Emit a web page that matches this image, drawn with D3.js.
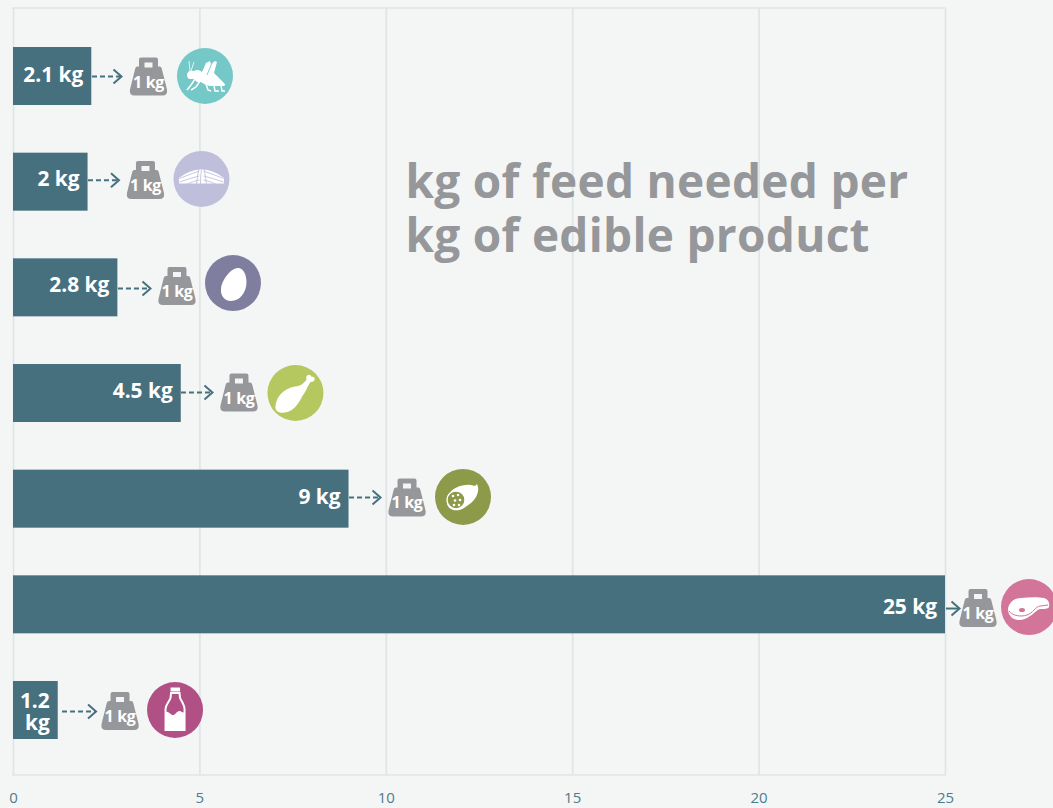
<!DOCTYPE html>
<html>
<head>
<meta charset="utf-8">
<script src="https://cdn.jsdelivr.net/npm/d3@7/dist/d3.min.js"></script>
<style>
  html, body { margin: 0; padding: 0; background: #f4f6f6; overflow: hidden; }
  svg { display: block; font-family: "Open Sans", sans-serif; }
</style>
</head>
<body>
<svg id="chart" width="1053" height="808"></svg>
<script>
// Feed conversion per kilogram of edible product
const products = ["Crickets", "Farmed fish", "Eggs", "Chicken", "Pork", "Beef", "Milk"];
const feedKg = [2.1, 2, 2.8, 4.5, 9, 25, 1.2];
const badgeColors = ["#74c8c8", "#bfbfdc", "#807e9e", "#b5c75f", "#8d9a4a", "#d37499", "#b15085"];
const tickValues = [0, 5, 10, 15, 20, 25];
const titleLines = ["kg of feed needed per", "kg of edible product"];

// Hand-placed callouts: distances from the bar end (dx) and bar middle (dy)
const arrowTipDx  = [30.2, 31.4, 33.1, 31.7, 32, 14.5, 38.3];
const arrowLength = [29.5, 31, 32.5, 31.5, 31.5, 13.5, 34];
const weightDx    = [57.2, 57.9, 59.6, 58.2, 58.5, 33, 62.3];
const badgeDx     = [113.7, 113.9, 115.6, 114.7, 114.5, 84, 117.3];
const arrowDy     = [0, -2, 0.7, -1, -1.7, 3.7, 1];
const weightDy    = [0.5, -1.7, -1.3, -0.5, -1.2, 3.7, 1];
const badgeDy     = [0, -2.7, -4.3, 0, -1.7, 2.7, 0];
const labelDy     = [-1, -2.5, -1.5, -2, -1.5, 3, 0];

const svg = d3.select("#chart");
const INK = "#47707f", GRID = "#e0e4e4", GREY = "#96979a";

const x = d3.scaleLinear().domain([0, 25]).range([13, 945]);
const y = d3.scaleBand().domain(products).range([47, 739]).paddingInner(0.451);
const PLOT_TOP = 8, PLOT_BOTTOM = 775;

// Frame and vertical grid lines, drawn by the axis
const axis = d3.axisBottom(x).tickValues(tickValues).tickSizeOuter(0)
  .tickSizeInner(-(PLOT_BOTTOM - PLOT_TOP)).tickPadding(17);
const axisG = svg.append("g").attr("transform", `translate(0,${PLOT_BOTTOM})`).call(axis);
axisG.select(".domain").remove();
axisG.selectAll(".tick line").attr("stroke", GRID).attr("stroke-width", 1.7);
axisG.selectAll(".tick text").attr("fill", "#4f7b8a").attr("font-size", 15)
  .attr("font-family", '"Open Sans", sans-serif');
[PLOT_TOP, PLOT_BOTTOM].forEach(v => svg.append("line")
  .attr("x1", x(0) - 1).attr("x2", x(25) + 1).attr("y1", v).attr("y2", v)
  .attr("stroke", GRID).attr("stroke-width", 1.7));

// Title
svg.append("g").selectAll("text").data(titleLines).join("text")
  .attr("x", 405.5).attr("y", (d, i) => 198 + i * 54)
  .attr("fill", GREY).attr("font-size", 46).attr("font-weight", 700)
  .attr("letter-spacing", 0.28).text(d => d);

function badgeColor(g) { return g.attr("data-color"); }

// Hand-drawn pictograms, centred on their badge
const icons = {
  Crickets: g => {
    g.append("path").attr("fill", "#fff").attr("d",
      "M-18 -1 C-18 -5 -14 -6 -11 -5 C-8 -7 -5 -6 -3 -4 L1 -13 L5 -15 L6 -12 L10 -15 L12 -14 L9 -3 L19 7 C21 9 20 10 18 10 L7 10 C2 10 -1 8 -4 6 L-8 6 L-11 3 L-15 3 C-17 3 -18 1 -18 -1 Z");
    g.append("path").attr("fill", "none").attr("stroke", "#fff").attr("stroke-width", 1.5)
      .attr("d", "M-10 3 L-14 9 L-18 14 M-5 5 L-9 11 L-14 14 M1 8 L3 14 L6 15 M9 9 L10 15 L14 15 M16 9 L17 15 L20 15");
    g.append("path").attr("fill", "none").attr("stroke", "#fff").attr("stroke-width", 0.8)
      .attr("d", "M-15 -5 L-16 -15 M-14 -5 L-11 -14");
    g.append("path").attr("fill", "none").attr("stroke", badgeColor(g)).attr("stroke-width", 0.9)
      .attr("d", "M2 -1 L7 -13");
  },
  "Farmed fish": g => {
    g.append("path").attr("fill", "#fff")
      .attr("d", "M-22.5 4.5 V-1 Q-12 -9.5 0 -9.5 Q12 -9.5 22.5 -1 V4.5 Z");
    g.append("path").attr("fill", "none").attr("stroke", badgeColor(g)).attr("stroke-width", 0.9)
      .attr("d", "M0 -9 Q-1 -2 -1 5 M-3 -9 Q-4 -1 -5 5 M3 -9 Q4 -1 5 5 M-22 -0.5 Q-11 -5 -2 -8 M22 -0.5 Q11 -5 2 -8 M-22 3 Q-12 -0.5 -2 -3 M22 3 Q12 -0.5 2 -3 M-14 5 Q-8 2 -2 1 M14 5 Q8 2 2 1");
  },
  Eggs: g => {
    g.append("path").attr("fill", "#fff")
      .attr("d", "M5 -15 C10 -15 13.5 -9 13.5 -1 C13.5 9 7 18 -2 18 C-9 18 -12.5 12 -12 6 C-11.5 -3 -2 -15 5 -15 Z");
  },
  Chicken: g => {
    g.append("path").attr("fill", "#fff")
      .attr("d", "M-20 13 C-19 3 -11 -4 -3 -6 C1 -7 4 -7 7 -9 L11 -13 C10 -16 12 -19 14 -18 C16 -18 16 -16 16 -16 C18 -17 20 -15 19 -13 C18 -11 16 -11 15 -11 L12 -6 C11 -3 9 0 7 3 C4 9 -1 17 -8 19 C-15 21 -21 19 -20 13 Z");
  },
  Pork: g => {
    g.append("path").attr("fill", "#fff")
      .attr("d", "M-12 -6 C-6 -11 2 -13 8 -12 L12 -11 L14 -13 L15 -10 C16 -5 13 2 8 6 L1 11 C-5 15 -14 14 -16 7 Z");
    g.append("circle").attr("cx", -7).attr("cy", 3).attr("r", 9)
      .attr("fill", badgeColor(g)).attr("stroke", "#fff").attr("stroke-width", 1.4);
    const spots = [[-10, -1], [-5, -2], [-3, 3], [-8, 3.5], [-9, 8], [-4, 8]];
    g.selectAll("circle.spot").data(spots).join("circle").attr("class", "spot")
      .attr("cx", d => d[0]).attr("cy", d => d[1]).attr("r", 1.3).attr("fill", "#fff");
  },
  Beef: g => {
    g.append("path").attr("fill", "#fff")
      .attr("d", "M-21 2 C-20 -5 -14 -9 -8 -9 C0 -10 10 -10 15 -9 C19 -8 21 -4 20 0 C19 2 15 2 11 2 C7 3 5 7 1 9 C-4 13 -10 14 -15 12 C-19 10 -21 6 -21 2 Z");
    g.append("path").attr("fill", "none").attr("stroke", badgeColor(g)).attr("stroke-width", 1)
      .attr("d", "M-20 4 C-16 9 -8 10 -2 8 C4 6 6 0 11 -1 L19 -2");
    g.append("ellipse").attr("cx", -7).attr("cy", 3).attr("rx", 3).attr("ry", 2).attr("fill", badgeColor(g));
  },
  Milk: g => {
    g.append("rect").attr("x", -4.5).attr("y", -22.5).attr("width", 9.5).attr("height", 4).attr("fill", "#fff");
    g.append("path").attr("fill", "none").attr("stroke", "#fff").attr("stroke-width", 2)
      .attr("d", "M-4 -17 H4.5 L5 -12 C7 -8 9.5 -5 9.5 -1 V20 H-9.5 V-1 C-9.5 -5 -6 -8 -4.5 -12 Z");
    g.append("path").attr("fill", "#fff")
      .attr("d", "M-10 2 C-7 1 -6 3 -3 5 C0 6 2 0 5 1 C7 2 8 3 10 2 V21 H-10 Z");
  }
};

// Feed bars
const rows = products.map((name, i) => ({ name, i, value: feedKg[i], color: badgeColors[i] }));
const row = svg.append("g").selectAll("g").data(rows).join("g");
row.append("rect")
  .attr("x", x(0)).attr("y", d => y(d.name))
  .attr("width", d => x(d.value) - x(0)).attr("height", y.bandwidth())
  .attr("fill", INK);

// Value labels, wrapped on two lines when the bar is too short for one
const labels = row.append("text")
  .attr("text-anchor", "end").attr("fill", "#fff").attr("font-size", 20.9).attr("font-weight", 700);
labels.each(function (d) {
  const t = d3.select(this), right = x(d.value) - 8, mid = y(d.name) + y.bandwidth() / 2;
  if (x(d.value) - x(0) < 60) {
    t.append("tspan").attr("x", right).attr("y", mid - 2).text(d.value);
    t.append("tspan").attr("x", right).attr("y", mid + 20).text("kg");
  } else {
    t.attr("x", right).attr("y", mid + 6.5 + labelDy[d.i]).text(`${d.value} kg`);
  }
});

// Arrow, 1 kg weight and product badge following each bar
row.each(function (d) {
  const g = d3.select(this), i = d.i;
  const end = x(d.value), mid = y(d.name) + y.bandwidth() / 2;
  const tip = end + arrowTipDx[i], ay = mid + arrowDy[i] + 0.5;

  g.append("line").attr("x1", tip - arrowLength[i]).attr("x2", tip - 1)
    .attr("y1", ay).attr("y2", ay)
    .attr("stroke", INK).attr("stroke-width", 2)
    .attr("stroke-dasharray", arrowLength[i] < 20 ? null : "5 3");
  g.append("path").attr("fill", "none").attr("stroke", INK).attr("stroke-width", 2)
    .attr("d", `M${tip - 8} ${ay - 7} L${tip} ${ay} L${tip - 8} ${ay + 7}`);

  const w = g.append("g").attr("transform", `translate(${end + weightDx[i]},${mid + weightDy[i]})`);
  w.append("path").attr("fill", GREY).attr("fill-rule", "evenodd")
    .attr("d", "M-9.5 -17 Q-9.5 -19 -7.5 -19 H7.5 Q9.5 -19 9.5 -17 V-10 H11 Q13 -10 13.5 -7 L18.5 13 Q19.5 19 14 19 H-14 Q-19.5 19 -18.5 13 L-13.5 -7 Q-13 -10 -11 -10 H-9.5 Z M-4 -14 H4 V-9 H-4 Z");
  w.append("text").attr("text-anchor", "middle").attr("y", 11).attr("fill", "#fff")
    .attr("font-size", 16).attr("font-weight", 700).attr("letter-spacing", -0.3).text("1 kg");

  const b = g.append("g").attr("transform", `translate(${end + badgeDx[i]},${mid + badgeDy[i]})`).attr("data-color", d.color);
  b.append("circle").attr("r", 28).attr("fill", d.color);
  icons[d.name](b);
});
</script>
</body>
</html>
